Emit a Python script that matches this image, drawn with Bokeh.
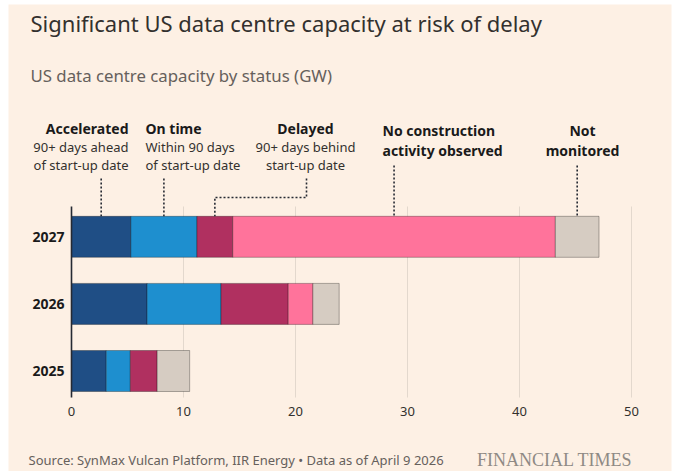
from bokeh.plotting import figure
from bokeh.models import ColumnDataSource, Range1d
from bokeh.core.properties import value
from bokeh.embed import file_html
from bokeh.resources import INLINE

# ---------------- data ----------------
years = ["2027", "2026", "2025"]
statuses = ["Accelerated", "On time", "Delayed", "No construction activity observed", "Not monitored"]
accelerated = [5.3, 6.75, 3.1]
on_time = [5.9, 6.6, 2.15]
delayed = [3.2, 6.0, 2.4]
no_construction = [28.8, 2.2, 0.0]
not_monitored = [3.9, 2.35, 2.9]
x_ticks = [0, 10, 20, 30, 40, 50]
colors = ["#1f4e85", "#1e8fcf", "#b03060", "#ff739b", "#d6ccc2"]

title = "Significant US data centre capacity at risk of delay"
subtitle = "US data centre capacity by status (GW)"
source_text = "Source: SynMax Vulcan Platform, IIR Energy \u2022 Data as of April 9 2026"
brand = "FINANCIAL TIMES"

# ---------------- layout ----------------
W, H = 676, 471
X0_PAGE = 71              # pixel x of value 0
PX_PER_UNIT = 11.2
BG = "#fdf0e4"
FONT = "Noto Sans"

def X(px):
    return (px - X0_PAGE) / PX_PER_UNIT

def Y(py):
    return py

p = figure(width=W, height=H, x_range=Range1d(X(0), X(W)), y_range=Range1d(H, 0),
           x_axis_type=None, y_axis_type=None, output_backend="svg",
           toolbar_location=None, min_border=0)
p.outline_line_color = None
p.background_fill_color = "white"
p.border_fill_color = "white"
p.grid.visible = False

# paper panel
p.quad(left=[X(8)], right=[X(671)], top=[Y(4)], bottom=[Y(H)], fill_color=BG, line_color=None)

# rows
ROW0 = 236.3   # pixel y centre of first row
ROW_STEP = 67.1
BAR_H = 41
row_y = [Y(ROW0 + i * ROW_STEP) for i in range(len(years))]
bars_top = Y(206)
bars_bottom = Y(397)

# grid lines
grid_x = [t for t in x_ticks if t != 0]
p.segment(x0=grid_x, x1=grid_x, y0=[bars_top] * len(grid_x), y1=[bars_bottom] * len(grid_x),
          line_color="#e3d8cd", line_width=1)

# stacked bars
series = [accelerated, on_time, delayed, no_construction, not_monitored]
cum = [0.0] * len(years)
for vals, col in zip(series, colors):
    left = list(cum)
    right = [c + v for c, v in zip(cum, vals)]
    keep = [i for i, v in enumerate(vals) if v > 0]
    src = ColumnDataSource(dict(y=[row_y[i] for i in keep], left=[left[i] for i in keep],
                                right=[right[i] for i in keep]))
    p.hbar(y="y", left="left", right="right", height=BAR_H, source=src,
           fill_color=col, line_color="#000000", line_alpha=0.3, line_width=1)
    cum = right

# zero axis line
p.segment(x0=[0], x1=[0], y0=[bars_top], y1=[bars_bottom], line_color="#262a33", line_width=1.6)

# year labels
p.text(x=[X(64)] * len(years), y=row_y, text=years, text_align="right", text_baseline="middle",
       text_font=value(FONT), text_font_style="bold", text_font_size="14px", text_color="#1a1a1a")

# x tick labels
p.text(x=x_ticks, y=[Y(410.5)] * len(x_ticks), text=[str(t) for t in x_ticks], text_align="center",
       text_baseline="middle", text_font=value(FONT), text_font_size="13px", text_color="#33302e")

# leader lines (pointing at 2027 segment midpoints)
top_row = 0
bounds = [0.0]
for vals in series:
    bounds.append(bounds[-1] + vals[top_row])
mids = [(bounds[i] + bounds[i + 1]) / 2 for i in range(len(series))]
bar_top_y = Y(ROW0 - BAR_H / 2)
dot = dict(line_color="#262a33", line_width=1.6, line_dash="2 2")
p.line(x=[mids[0], mids[0]], y=[Y(178), bar_top_y], **dot)
p.line(x=[mids[1], mids[1]], y=[Y(178), bar_top_y], **dot)
p.line(x=[X(306), X(306), mids[2], mids[2]], y=[Y(178), Y(197), Y(197), bar_top_y], **dot)
p.line(x=[mids[3], mids[3]], y=[Y(165), bar_top_y], **dot)
p.line(x=[mids[4], mids[4]], y=[Y(165), bar_top_y], **dot)

def label(x, y, txt, align, bold=False, size="14px", color="#1a1a1a", font=FONT):
    p.text(x=[x], y=[y], text=[txt], text_align=align, text_baseline="middle",
           text_font=value(font), text_font_style="bold" if bold else "normal",
           text_font_size=size, text_color=color)

SUBC = "#33302e"
SUBS = "13px"
# Accelerated
label(X(128), Y(127.5), "Accelerated", "right", bold=True)
label(X(128), Y(146.5), "90+ days ahead", "right", size=SUBS, color=SUBC)
label(X(128), Y(164), "of start-up date", "right", size=SUBS, color=SUBC)
# On time
label(X(145), Y(127.5), "On time", "left", bold=True)
label(X(145), Y(146.5), "Within 90 days", "left", size=SUBS, color=SUBC)
label(X(145), Y(164), "of start-up date", "left", size=SUBS, color=SUBC)
# Delayed
label(X(305), Y(127.5), "Delayed", "center", bold=True)
label(X(305), Y(146.5), "90+ days behind", "center", size=SUBS, color=SUBC)
label(X(305), Y(164), "start-up date", "center", size=SUBS, color=SUBC)
# No construction
label(X(382), Y(130), "No construction", "left", bold=True)
label(X(382), Y(150), "activity observed", "left", bold=True)
# Not monitored
label(X(582), Y(130), "Not", "center", bold=True)
label(X(582), Y(150), "monitored", "center", bold=True)

# title, subtitle, footer
label(X(30), Y(22), title, "left", size="22px", color="#33302e")
label(X(30), Y(75), subtitle, "left", size="16.8px", color="#66605c")
label(X(28), Y(459), source_text, "left", size="13px", color="#66605c")
label(X(632), Y(459), brand, "right", size="18px", color="#8f8a85", font="Liberation Serif")

open("out.html", "w").write(file_html(p, INLINE))
